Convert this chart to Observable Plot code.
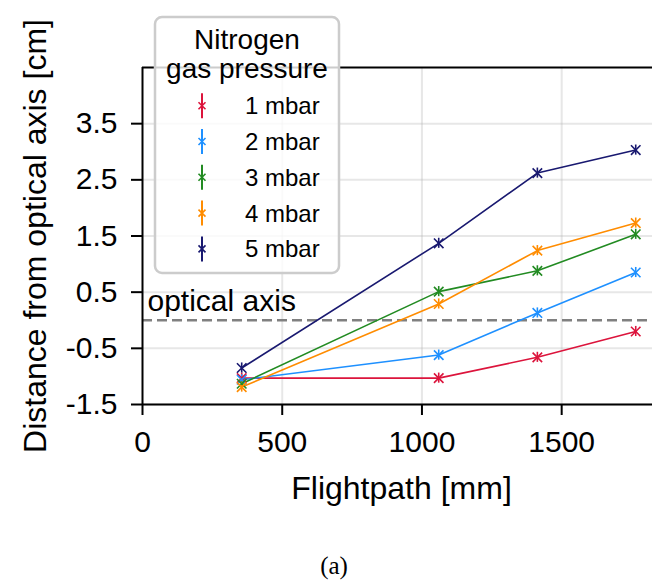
<!DOCTYPE html>
<html>
<head>
<meta charset="utf-8">
<script src="https://cdn.jsdelivr.net/npm/d3@7"></script>
<script src="https://cdn.jsdelivr.net/npm/@observablehq/plot@0.6"></script>
<style>
  html, body { margin: 0; padding: 0; background: #fff; }
  #wrap { position: relative; width: 652px; height: 580px; font-family: "Liberation Sans", Arial, sans-serif; }
  #legend { position: absolute; left: 152px; top: 14px; }
  #caption { position: absolute; left: 0; width: 668px; top: 554px; height: 24px; line-height: 24px; text-align: center; font-family: "Liberation Serif", "DejaVu Serif", serif; font-size: 25px; color: #000; }
</style>
</head>
<body>
<div id="wrap">
  <div id="chart"></div>
  <svg id="legend" width="192" height="264"></svg>
  <div id="caption">(a)</div>
</div>
<script>
// ---- data ----
const series = ["1 mbar", "2 mbar", "3 mbar", "4 mbar", "5 mbar"];
const colors = ["crimson", "dodgerblue", "forestgreen", "darkorange", "midnightblue"];
const flightpath = [355, 1060, 1413, 1765]; // mm
const dist1mbar = [-1.03, -1.03, -0.66, -0.20];
const dist2mbar = [-1.06, -0.62, 0.13, 0.85];
const dist3mbar = [-1.13, 0.51, 0.88, 1.53];
const dist4mbar = [-1.19, 0.29, 1.24, 1.73];
const dist5mbar = [-0.85, 1.37, 2.62, 3.03];
const yerr = [0.09, 0.09, 0.09, 0.09, 0.09];
const xTicks = [0, 500, 1000, 1500];
const yTicks = [-1.5, -0.5, 0.5, 1.5, 2.5, 3.5];
const legendTitle = ["Nitrogen", "gas pressure"];

const values = [dist1mbar, dist2mbar, dist3mbar, dist4mbar, dist5mbar];
const rows = series.flatMap((s, i) =>
  flightpath.map((x, j) => ({series: s, x, y: values[i][j], e: yerr[i]})));

const font = "Liberation Sans, Arial, sans-serif";

const chart = Plot.plot({
  width: 652,
  height: 530,
  marginTop: 67,
  marginBottom: 126,
  marginLeft: 142,
  marginRight: 0,
  style: {fontFamily: font, color: "#000", background: "transparent", overflow: "visible"},
  x: {domain: [0, 1825]},
  y: {domain: [-1.5, 4.5]},
  color: {domain: series, range: colors},
  marks: [
    Plot.gridX(xTicks.slice(1), {stroke: "#b0b0b0", strokeOpacity: 0.3, strokeWidth: 2}),
    Plot.gridY(yTicks, {stroke: "#b0b0b0", strokeOpacity: 0.3, strokeWidth: 2}),
    Plot.ruleY([0], {stroke: "#808080", strokeWidth: 2.5, strokeDasharray: "10,5"}),
    Plot.text(["optical axis"], {x: 0, y: 0, text: d => d, dx: 5, dy: -19, textAnchor: "start", fontSize: 30, fill: "#000"}),
    Plot.line(rows, {x: "x", y: "y", z: "series", stroke: "series", strokeWidth: 1.6}),
    Plot.ruleX(rows, {x: "x", y1: d => d.y - d.e, y2: d => d.y + d.e, stroke: "series", strokeWidth: 1.6}),
    Plot.dot(rows, {x: "x", y: "y", stroke: "series", symbol: "times", r: 4.4, strokeWidth: 1.6}),
    Plot.ruleX([0], {stroke: "#000", strokeWidth: 2}),
    Plot.ruleY([-1.5], {stroke: "#000", strokeWidth: 2}),
    Plot.ruleY([4.5], {stroke: "#000", strokeWidth: 2}),
    Plot.axisX(xTicks, {tickSize: 11, tickPadding: 15, fontSize: 30, strokeWidth: 2, label: null, tickFormat: d => String(d)}),
    Plot.axisY(yTicks, {tickSize: 11, tickPadding: 14, fontSize: 30, strokeWidth: 2, label: null, tickFormat: d => d.toFixed(1)}),
    Plot.text(["Flightpath [mm]"], {frameAnchor: "bottom", text: d => d, dy: 94, dx: 4, fontSize: 32, fill: "#000"}),
    Plot.text(["Distance from optical axis [cm]"], {frameAnchor: "left", textAnchor: "middle", text: d => d, dx: -107, rotate: -90, fontSize: 32, fill: "#000"})
  ]
});
document.getElementById("chart").appendChild(chart);

// ---- legend ----
const lg = d3.select("#legend");
lg.append("rect").attr("x", 3).attr("y", 3).attr("width", 184).attr("height", 256)
  .attr("rx", 7).attr("fill", "#fff").attr("fill-opacity", 0.8)
  .attr("stroke", "#cccccc").attr("stroke-width", 2.5);
legendTitle.forEach((t, i) => {
  lg.append("text").attr("x", 95).attr("y", 25 + i * 29).attr("dy", "0.35em")
    .attr("text-anchor", "middle").attr("font-family", font).attr("font-size", 28).text(t);
});
series.forEach((s, i) => {
  const cy = 91.7 + i * 35.8;
  const g = lg.append("g").attr("stroke", colors[i]).attr("stroke-width", 2);
  g.append("line").attr("x1", 50).attr("x2", 50).attr("y1", cy - 12.5).attr("y2", cy + 12.5);
  g.append("line").attr("x1", 46.5).attr("x2", 53.5).attr("y1", cy - 3.5).attr("y2", cy + 3.5).attr("stroke-width", 1.6);
  g.append("line").attr("x1", 46.5).attr("x2", 53.5).attr("y1", cy + 3.5).attr("y2", cy - 3.5).attr("stroke-width", 1.6);
  lg.append("text").attr("x", 93).attr("y", cy).attr("dy", "0.35em")
    .attr("font-family", font).attr("font-size", 24).text(s);
});
</script>
</body>
</html>
